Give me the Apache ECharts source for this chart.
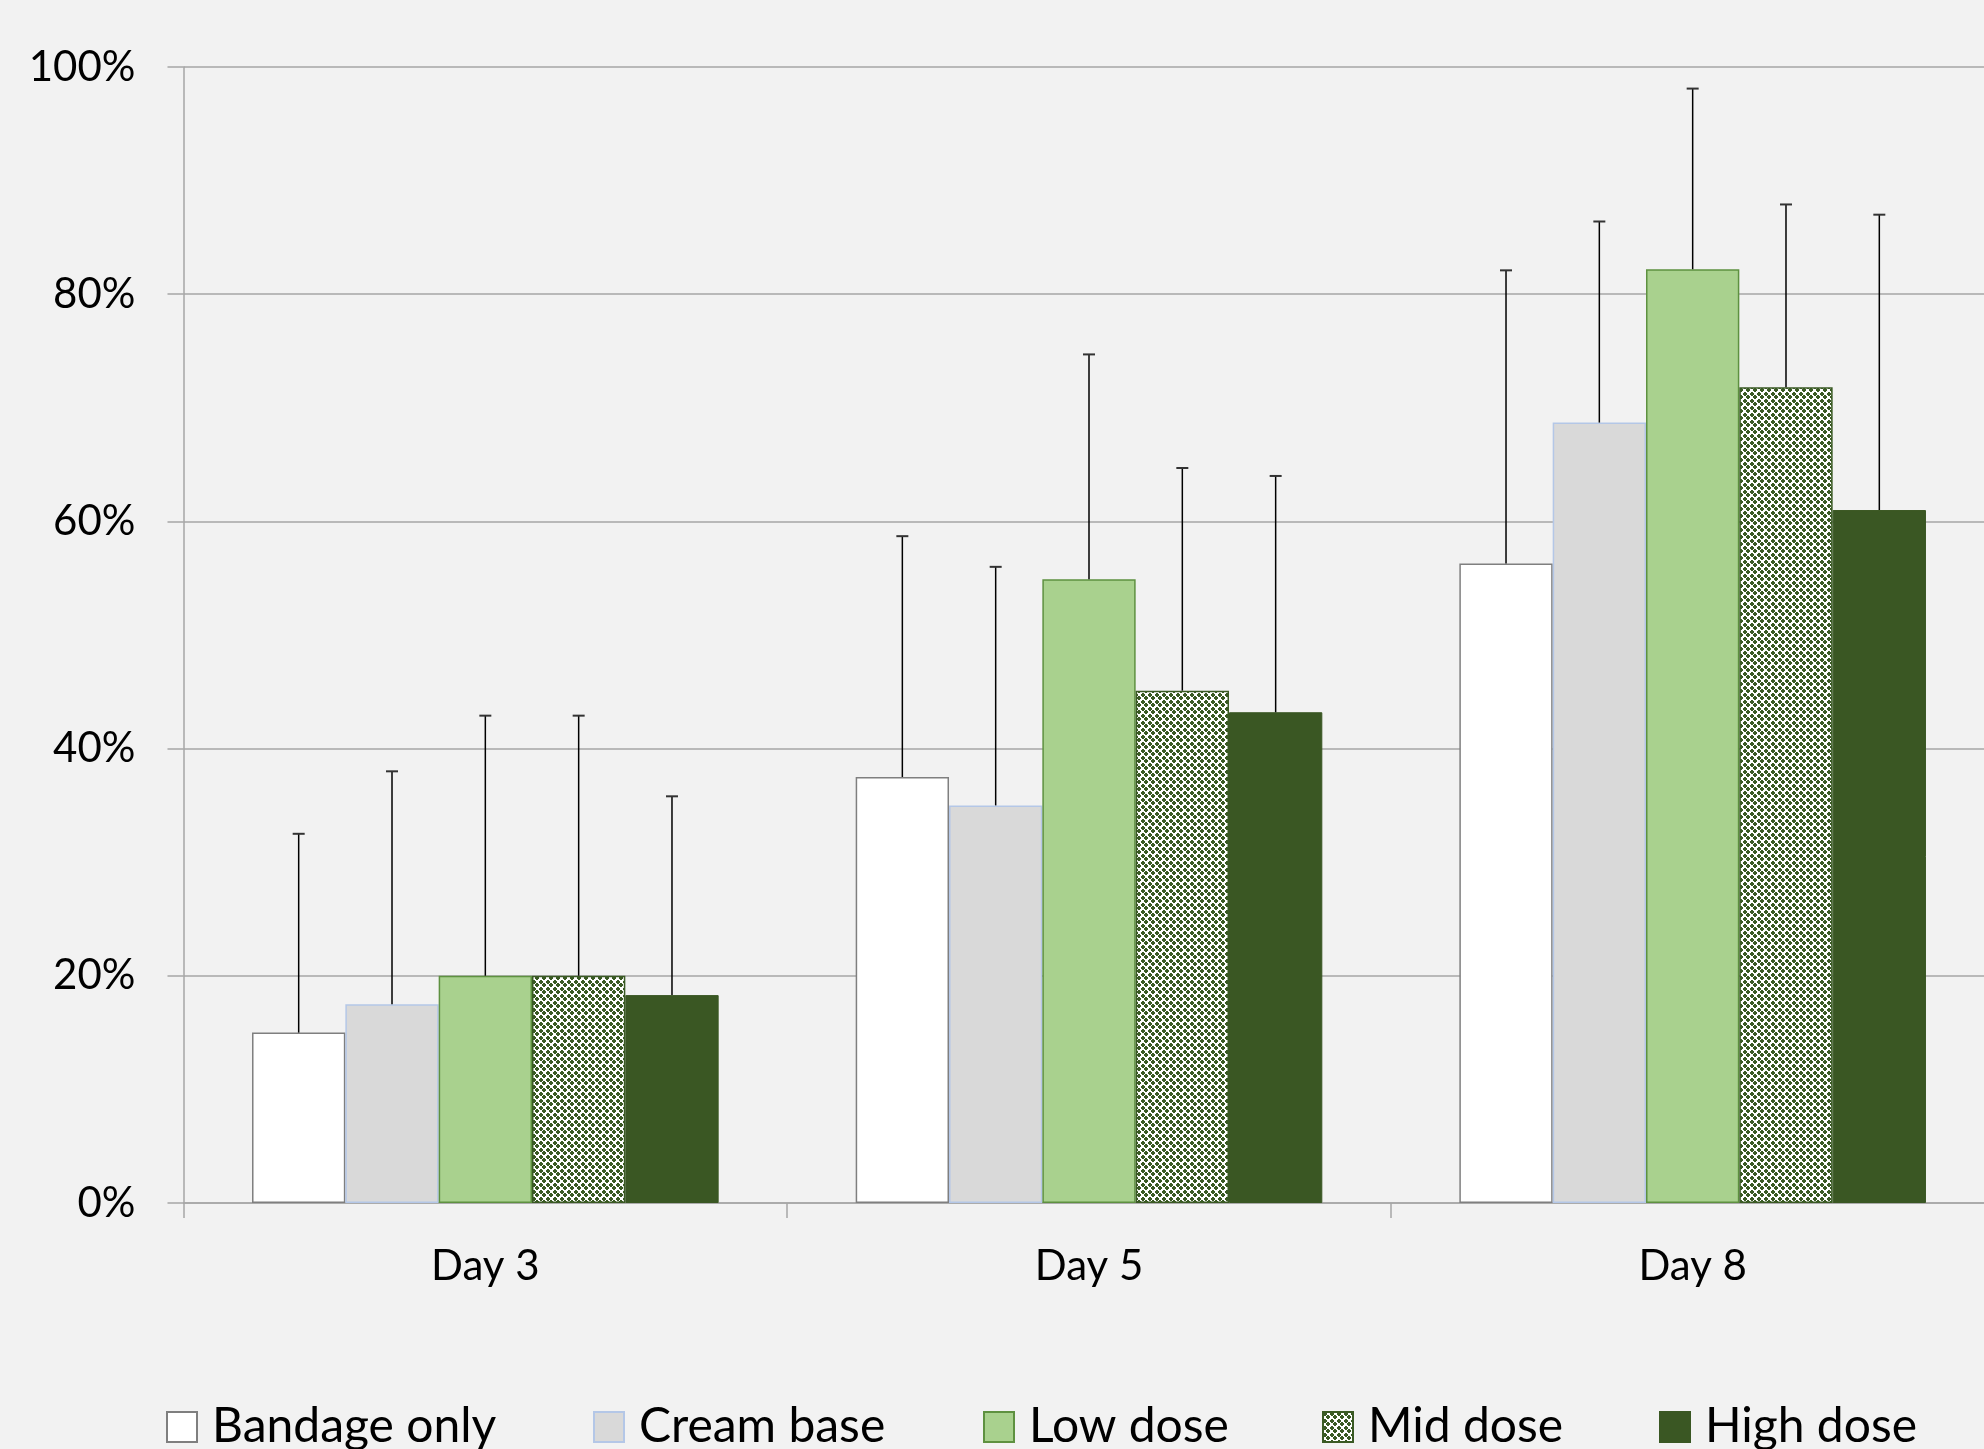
<!DOCTYPE html>
<html>
<head>
<meta charset="utf-8">
<script src="https://cdn.jsdelivr.net/npm/echarts@6/dist/echarts.min.js"></script>
<style>
html,body{margin:0;padding:0;background:#f2f2f2;overflow:hidden;}
#chart{width:2000px;height:1449px;}
</style>
</head>
<body>
<div id="chart"></div>
<script>
// ---- data (percent) ----
const categories = ['Day 3', 'Day 5', 'Day 8'];
const seriesNames = ['Bandage only', 'Cream base', 'Low dose', 'Mid dose', 'High dose'];
const bandageOnly = [15.0, 37.5, 56.3];
const creamBase   = [17.5, 35.0, 68.7];
const lowDose     = [20.0, 54.9, 82.2];
const midDose     = [20.0, 45.1, 71.8];
const highDose    = [18.3, 43.2, 61.0];
// upper error amounts (+)
const bandageErr = [17.5, 21.2, 25.8];
const creamErr   = [20.5, 21.0, 17.7];
const lowErr     = [22.9, 19.8, 15.9];
const midErr     = [22.9, 19.6, 16.1];
const highErr    = [17.5, 20.8, 26.0];
const yTicks = [0, 20, 40, 60, 80, 100];

const values = [bandageOnly, creamBase, lowDose, midDose, highDose];
const errors = [bandageErr, creamErr, lowErr, midErr, highErr];

// pattern for mid dose: green pluses on white
function makePattern() {
  const N = 7;
  const c = document.createElement('canvas');
  c.width = N; c.height = N;
  const ctx = c.getContext('2d');
  ctx.fillStyle = '#ffffff';
  ctx.fillRect(0, 0, N, N);
  ctx.fillStyle = '#3a5a24';
  const m = v => ((v % N) + N) % N;
  function plus(cx, cy) {
    for (let dx = -1; dx <= 2; dx++) for (let dy = 0; dy <= 1; dy++) ctx.fillRect(m(cx + dx), m(cy + dy), 1, 1);
    for (let dy = -1; dy <= 2; dy++) for (let dx = 0; dx <= 1; dx++) ctx.fillRect(m(cx + dx), m(cy + dy), 1, 1);
  }
  plus(1, 1);
  plus(4, 4);
  return c;
}
const midPattern = { image: makePattern(), repeat: 'repeat' };

const styles = [
  { color: '#ffffff', borderColor: '#7f7f7f', borderWidth: 1.5 },
  { color: '#d9d9d9', borderColor: '#b4c7e7', borderWidth: 1.5 },
  { color: '#a9d18e', borderColor: '#5e9140', borderWidth: 1.5 },
  { color: midPattern, borderColor: '#3a5a24', borderWidth: 1.5 },
  { color: '#3a5723', borderColor: '#3a5723', borderWidth: 1 }
];

const GAP = 0.227;
const FONT = 'Lato';

const errData = [];
values.forEach((arr, s) => arr.forEach((v, i) => errData.push([i, v + errors[s][i], s, v])));

const barSeries = seriesNames.map((name, s) => ({
  name: name,
  type: 'bar',
  data: values[s],
  barGap: 0,
  barCategoryGap: (GAP * 100) + '%',
  itemStyle: styles[s],
  emphasis: { disabled: true },
  z: 2
}));

const errSeries = {
  type: 'custom',
  data: errData,
  encode: { x: 0, y: 1 },
  z: 5,
  silent: true,
  renderItem: function (params, api) {
    const cat = api.value(0), top = api.value(1), s = api.value(2), mean = api.value(3);
    const bw = api.size([1, 0])[0];
    const groupW = bw * (1 - GAP);
    const barW = groupW / 5;
    const c0 = api.coord([cat, mean]);
    const c1 = api.coord([cat, top]);
    const x = c0[0] - groupW / 2 + barW * (s + 0.5);
    const cap = 6;
    return {
      type: 'group',
      children: [
        { type: 'line', shape: { x1: x, y1: c0[1], x2: x, y2: c1[1] }, style: { stroke: '#000000', lineWidth: 1.5 } },
        { type: 'line', shape: { x1: x - cap, y1: c1[1], x2: x + cap, y2: c1[1] }, style: { stroke: '#333333', lineWidth: 2 } }
      ]
    };
  }
};

const legendLefts = [166, 593, 983, 1322, 1659];
const legends = seriesNames.map((n, s) => ({
  data: [n],
  left: legendLefts[s],
  top: 1403,
  padding: 0,
  itemWidth: 30,
  itemHeight: 30,
  icon: 'rect',
  selectedMode: false,
  textStyle: { fontFamily: FONT, fontSize: 48, color: '#000', padding: [0, 0, 0, 10] }
}));

const chart = echarts.init(document.getElementById('chart'), null, { renderer: 'canvas' });
chart.setOption({
  backgroundColor: '#f2f2f2',
  animation: false,
  legend: legends,
  grid: { left: 183.5, top: 67, width: 1811, height: 1136, containLabel: false },
  xAxis: {
    type: 'category',
    data: categories,
    axisLine: { lineStyle: { color: '#a6a6a6', width: 1.5 } },
    axisTick: { show: true, length: 15, lineStyle: { color: '#a6a6a6', width: 1.5 } },
    axisLabel: { fontFamily: FONT, fontSize: 42, color: '#000', margin: 42 }
  },
  yAxis: {
    type: 'value',
    min: yTicks[0],
    max: yTicks[yTicks.length - 1],
    interval: 20,
    axisLine: { show: true, lineStyle: { color: '#a6a6a6', width: 1.5 } },
    axisTick: { show: true, length: 16, lineStyle: { color: '#a6a6a6', width: 1.5 } },
    splitLine: { lineStyle: { color: '#a6a6a6', width: 1.5 } },
    axisLabel: { fontFamily: FONT, fontSize: 42, color: '#000', margin: 48, formatter: '{value}%' }
  },
  series: barSeries.concat([errSeries])
});
</script>
</body>
</html>
